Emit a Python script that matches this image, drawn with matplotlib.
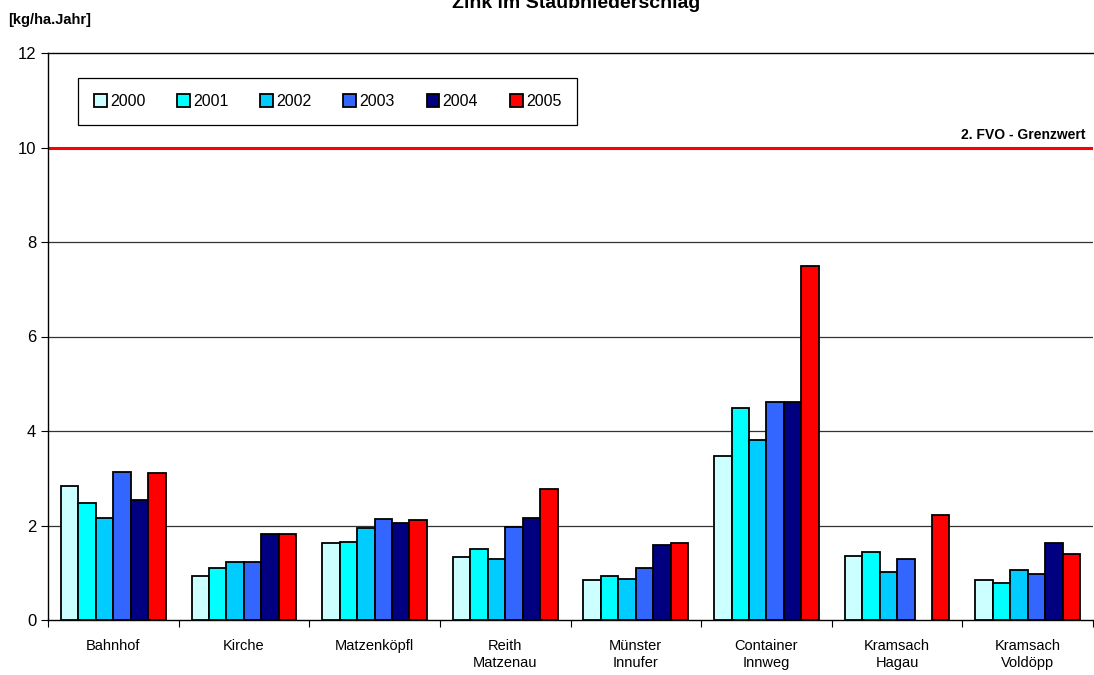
import numpy as np
import matplotlib.pyplot as plt
from matplotlib.ticker import FixedLocator

# Messstellen und Jahreswerte (kg/ha.Jahr)
stations = ['Bahnhof', 'Kirche', 'Matzenköpfl', 'Reith\nMatzenau', 'Münster\nInnufer',
            'Container\nInnweg', 'Kramsach\nHagau', 'Kramsach\nVoldöpp']
years = ['2000', '2001', '2002', '2003', '2004', '2005']
v2000 = [2.83, 0.93, 1.62, 1.33, 0.85, 3.47, 1.36, 0.85]
v2001 = [2.47, 1.09, 1.65, 1.51, 0.94, 4.48, 1.43, 0.79]
v2002 = [2.16, 1.22, 1.94, 1.29, 0.87, 3.81, 1.01, 1.06]
v2003 = [3.14, 1.23, 2.13, 1.96, 1.09, 4.62, 1.29, 0.97]
v2004 = [2.54, 1.82, 2.06, 2.16, 1.58, 4.62, np.nan, 1.63]
v2005 = [3.12, 1.82, 2.12, 2.77, 1.63, 7.50, 2.23, 1.39]
limit = 10

series = [v2000, v2001, v2002, v2003, v2004, v2005]
colors = ['#CCFFFF', '#00FFFF', '#00CCFF', '#3366FF', '#000080', '#FF0000']

fig = plt.figure(figsize=(10.94, 6.75), dpi=100)
ax = fig.add_axes([48 / 1094, 55 / 675, 1045 / 1094, 567 / 675])

x = np.arange(len(stations))
w = 0.1335
for i, (vals, col) in enumerate(zip(series, colors)):
    ax.bar(x + (i - 2.5) * w, vals, w, color=col, edgecolor='black',
           linewidth=1.3, label=years[i], zorder=3)

ax.set_xlim(-0.5, len(stations) - 0.5)
ax.set_ylim(0, 12)
ax.set_yticks(range(0, 13, 2))
for yv in range(2, 10, 2):
    ax.axhline(yv, color='#333333', lw=0.9, zorder=1)
ax.axhline(limit, color='#FF0000', lw=2.2, zorder=2)
ax.text(len(stations) - 0.56, limit + 0.12, '2. FVO - Grenzwert', ha='right',
        va='bottom', fontsize=10, fontweight='bold', family='Liberation Sans')

ax.set_xticks(x)
ax.set_xticklabels(stations, fontsize=10.5, family='Liberation Sans')
ax.xaxis.set_minor_locator(FixedLocator(np.arange(-0.5, len(stations), 1)))
ax.tick_params(axis='x', which='major', length=0, pad=14)
ax.tick_params(axis='x', which='minor', length=5, width=0.8)
ax.tick_params(axis='y', length=5, width=0.8, labelsize=12)
for lab in ax.get_yticklabels():
    lab.set_family('Liberation Sans')

for s in ['top', 'left', 'bottom']:
    ax.spines[s].set_linewidth(1.0)
ax.spines['right'].set_visible(False)

leg = ax.legend(loc='lower left', bbox_to_anchor=(0.021, 0.859, 0.493, 0.082),
                mode='expand', ncol=6, fancybox=False, framealpha=1,
                edgecolor='black', handlelength=0.8, handleheight=0.8,
                handletextpad=0.2, borderpad=1.0,
                prop={'family': 'Liberation Sans', 'size': 11.5})
leg.get_frame().set_linewidth(0.9)

fig.text(0.527, 0.995, 'Zink im Staubniederschlag', ha='center', va='center',
         fontsize=14, fontweight='bold', family='Liberation Sans')
fig.text(8 / 1094, 1 - 20 / 675, '[kg/ha.Jahr]', ha='left', va='center',
         fontsize=10.5, fontweight='bold', family='Liberation Sans')

fig.savefig('out.png', dpi=100)
